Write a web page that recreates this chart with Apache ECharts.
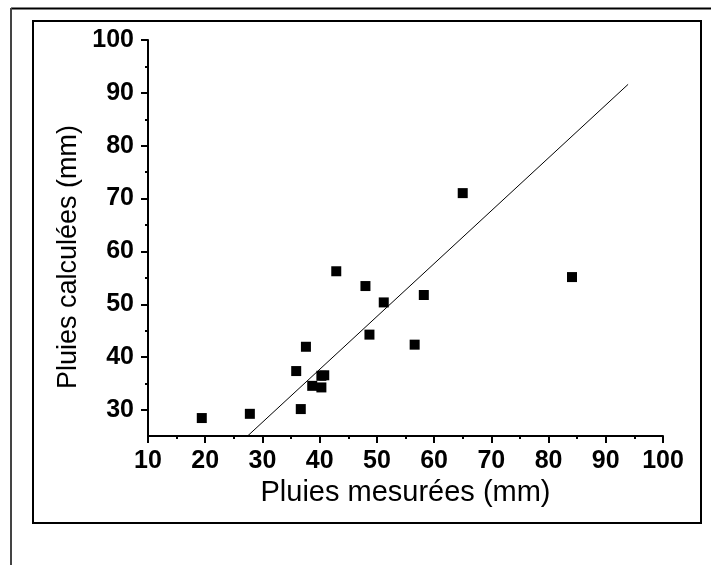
<!DOCTYPE html>
<html>
<head>
<meta charset="utf-8">
<script src="https://cdn.jsdelivr.net/npm/echarts@6/dist/echarts.min.js"></script>
<style>
html,body{margin:0;padding:0;background:#fff;}
#chart{width:711px;height:565px;}
</style>
</head>
<body>
<div id="chart"></div>
<script>
// Data
var measured = [19.4, 27.8, 36.7, 35.9, 37.6, 38.7, 40.3, 40.8, 40.3, 42.9, 48.0, 48.7, 51.2, 56.6, 58.2, 65.0, 84.1];
var computed = [28.4, 29.2, 30.1, 37.3, 41.9, 34.5, 36.4, 36.5, 34.2, 56.2, 53.4, 44.2, 50.3, 42.3, 51.7, 71.0, 55.1];
var fitX = [27.4, 93.9];
var fitY = [25.0, 91.6];
var xTitle = 'Pluies mesurées (mm)';
var yTitle = 'Pluies calculées (mm)';
var xRange = [10, 100];
var yRange = [25, 100];
var yLabelRange = [30, 100];

var points = measured.map(function (x, i) { return [x, computed[i]]; });
var fitLine = fitX.map(function (x, i) { return [x, fitY[i]]; });

var FONT = 'Liberation Sans, Arial, sans-serif';
var chart = echarts.init(document.getElementById('chart'), null, {renderer: 'canvas'});
chart.setOption({
  backgroundColor: '#ffffff',
  animation: false,
  grid: [
    {left: 148, right: 48, top: 40, bottom: 129},
    {left: 148, right: 48, top: 40, bottom: 155}
  ],
  xAxis: [
    {
      gridIndex: 0, type: 'value', min: xRange[0], max: xRange[1], interval: 10,
      name: xTitle, nameLocation: 'middle', nameGap: 42,
      nameTextStyle: {fontFamily: FONT, fontSize: 29, color: '#000'},
      axisLine: {show: true, onZero: false, lineStyle: {color: '#000', width: 2}},
      axisTick: {show: true, length: 7, lineStyle: {color: '#000', width: 2}},
      minorTick: {show: true, splitNumber: 2, length: 3, lineStyle: {color: '#000', width: 2}},
      axisLabel: {fontFamily: FONT, fontSize: 25, fontWeight: 'bold', color: '#000', margin: 13},
      splitLine: {show: false}
    },
    {
      gridIndex: 1, type: 'value', min: xRange[0], max: xRange[1], show: false
    }
  ],
  yAxis: [
    {
      gridIndex: 0, type: 'value', min: yRange[0], max: yRange[1], interval: 5,
      name: yTitle, nameLocation: 'middle', nameGap: 66, nameRotate: 90,
      nameTextStyle: {fontFamily: FONT, fontSize: 27, color: '#000', padding: [0, 38, 0, 0]},
      axisLine: {show: true, onZero: false, lineStyle: {color: '#000', width: 2}},
      axisTick: {show: false},
      axisLabel: {show: false},
      splitLine: {show: false}
    },
    {
      gridIndex: 1, type: 'value', min: yLabelRange[0], max: yLabelRange[1], interval: 10,
      axisLine: {show: false},
      axisTick: {show: true, length: 7, lineStyle: {color: '#000', width: 2}},
      minorTick: {show: true, splitNumber: 2, length: 3, lineStyle: {color: '#000', width: 2}},
      axisLabel: {fontFamily: FONT, fontSize: 25, fontWeight: 'bold', color: '#000', margin: 14},
      splitLine: {show: false}
    }
  ],
  graphic: [
    {type: 'line', shape: {x1: 11, y1: 8.5, x2: 711, y2: 8.5}, style: {stroke: '#000', lineWidth: 2}, silent: true},
    {type: 'line', shape: {x1: 11, y1: 8, x2: 11, y2: 565}, style: {stroke: '#444', lineWidth: 2}, silent: true},
    {type: 'rect', shape: {x: 33, y: 21, width: 668, height: 502}, style: {fill: 'none', stroke: '#000', lineWidth: 2}, silent: true}
  ],
  series: [
    {
      type: 'line', xAxisIndex: 0, yAxisIndex: 0, data: fitLine,
      symbol: 'none', lineStyle: {color: '#000', width: 1}, silent: true
    },
    {
      type: 'scatter', xAxisIndex: 0, yAxisIndex: 0, data: points,
      symbol: 'rect', symbolSize: 10, itemStyle: {color: '#000', opacity: 1}, silent: true
    }
  ]
});
</script>
</body>
</html>
